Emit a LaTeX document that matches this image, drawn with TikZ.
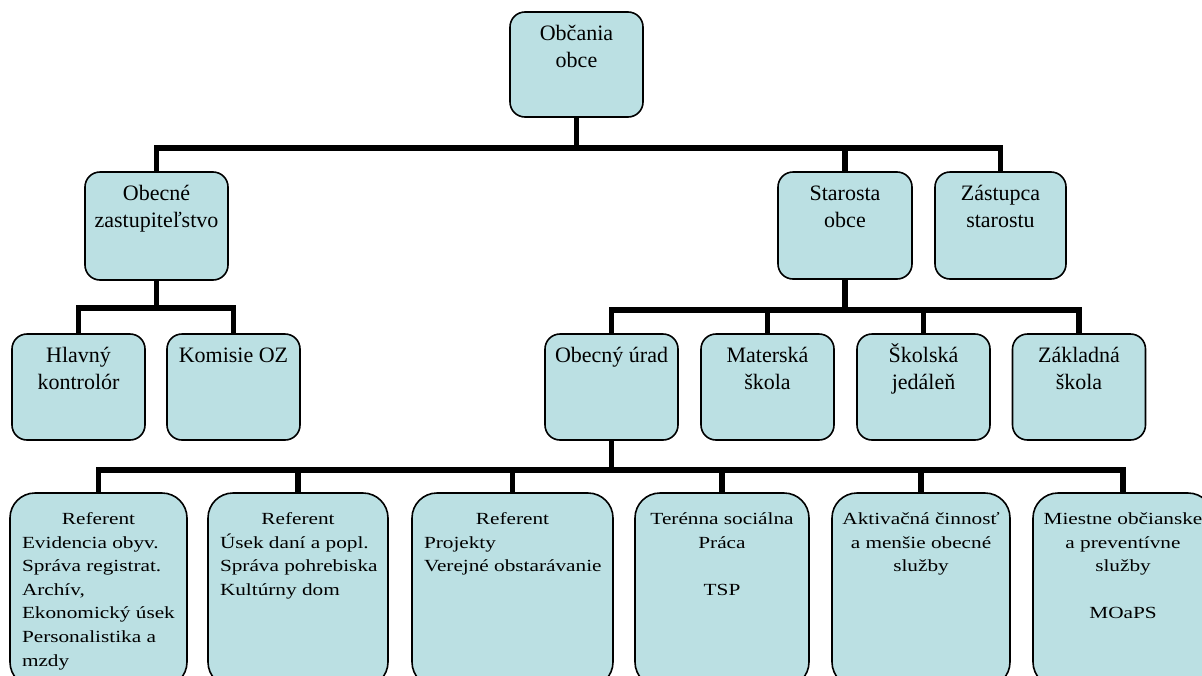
\documentclass[tikz,border=0pt]{standalone}
\usepackage{fontspec}
\setmainfont{Liberation Serif}
\newfontfamily\lowfont[FakeStretch=1.25]{Liberation Serif}
\newlength\px \setlength\px{0.75pt}
\definecolor{boxfill}{HTML}{BBE0E3}
\hyphenpenalty=10000 \exhyphenpenalty=10000
\newcommand\upbox[3]{\parbox[c][#2\px][t]{#1\px}{\centering\fontsize{16.5pt}{20.25pt}\selectfont\rule{0pt}{28\px}#3}}
\newcommand\lowbox[4]{\parbox[c][#2\px][t]{#1\px}{\lowfont\fontsize{12.75pt}{17.7pt}\selectfont{\centering\rule{0pt}{31.5\px}#3\par}\leftskip=12\px\rightskip=0pt plus 1fil\relax #4}}
\tikzset{
  box/.style={draw=black, line width=1.2pt, fill=boxfill, rounded corners=11.25pt, inner sep=0pt, outer sep=0pt},
  lowbx/.style={box, rounded corners=18.75pt},
  conn/.style={line width=4pt, line join=miter, draw=black}
}
\begin{document}
\begin{tikzpicture}[x=0.75pt, y=-0.75pt]
\useasboundingbox (0,0) rectangle (1202,675);
\clip (0,0) rectangle (1202,675);
% level 1
\node[box] (top) at (576.5,64.5) {\upbox{133}{105}{Občania\\obce}};
% level 2
\node[box] (oz) at (156.5,226) {\upbox{143}{108}{Obecné\\zastupiteľstvo}};
\node[box] (star) at (845,225.5) {\upbox{134}{107}{Starosta\\obce}};
\node[box] (zast) at (1000.5,225.5) {\upbox{131}{107}{Zástupca\\starostu}};
% level 3
\node[box] (hlav) at (78.5,387) {\upbox{133}{106}{Hlavný\\kontrolór}};
\node[box] (kom) at (233.5,387) {\upbox{133}{106}{Komisie OZ}};
\node[box] (urad) at (611.5,387) {\upbox{133}{106}{Obecný úrad}};
\node[box] (mat) at (767.5,387) {\upbox{133}{106}{Materská\\škola}};
\node[box] (skol) at (923.5,387) {\upbox{133}{106}{Školská\\jedáleň}};
\node[box] (zakl) at (1079,387) {\upbox{133}{106}{Základná\\škola}};
% level 4
\node[lowbx] (r1) at (98.5,590) {\lowbox{177}{194}{Referent}{Evidencia obyv.\\Správa registrat.\\Archív,\\Ekonomický úsek\\Personalistika a\\mzdy}};
\node[lowbx] (r2) at (298,590) {\lowbox{180}{194}{Referent}{Úsek daní a popl.\\Správa pohrebiska\\Kultúrny dom}};
\node[lowbx] (r3) at (512.5,590) {\lowbox{201}{194}{Referent}{Projekty\\Verejné obstarávanie}};
\node[lowbx] (r4) at (722,590) {\lowbox{174}{194}{Terénna sociálna\\Práca\\[17.7pt]TSP}{}};
\node[lowbx] (r5) at (921,590) {\lowbox{178}{194}{Aktivačná činnosť\\a menšie obecné\\služby}{}};
\node[lowbx] (r6) at (1123,590) {\lowbox{180}{194}{Miestne občianske\\a preventívne\\služby\\[17.7pt]MOaPS}{}};
% connectors
\draw[conn] (top.south) -- ++(0,31) -| (oz.north);
\draw[conn] (top.south) -- ++(0,31) -| (star.north);
\draw[conn] (top.south) -- ++(0,31) -| (zast.north);
\draw[conn] (oz.south) -- ++(0,28) -| (hlav.north);
\draw[conn] (oz.south) -- ++(0,28) -| (kom.north);
\draw[conn] (star.south) -- ++(0,31) -| (urad.north);
\draw[conn] (star.south) -- ++(0,31) -| (mat.north);
\draw[conn] (star.south) -- ++(0,31) -| (skol.north);
\draw[conn] (star.south) -- ++(0,31) -| (zakl.north);
\draw[conn] (urad.south) -- ++(0,30) -| (r1.north);
\draw[conn] (urad.south) -- ++(0,30) -| (r2.north);
\draw[conn] (urad.south) -- ++(0,30) -| (r3.north);
\draw[conn] (urad.south) -- ++(0,30) -| (r4.north);
\draw[conn] (urad.south) -- ++(0,30) -| (r5.north);
\draw[conn] (urad.south) -- ++(0,30) -| (r6.north);
\end{tikzpicture}
\end{document}
